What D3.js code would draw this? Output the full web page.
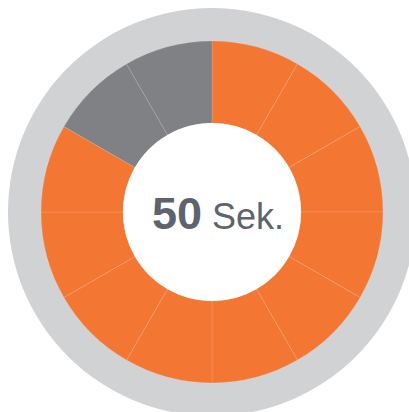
<!DOCTYPE html>
<html>
<head>
<meta charset="utf-8">
<script src="https://cdn.jsdelivr.net/npm/d3@7"></script>
<style>
  html, body { margin: 0; padding: 0; background: #ffffff; }
  svg { display: block; }
</style>
</head>
<body>
<div id="timer"></div>
<script>
// data: one minute split into 12 five-second slices
var slices = ["0-5", "5-10", "10-15", "15-20", "20-25", "25-30",
              "30-35", "35-40", "40-45", "45-50", "50-55", "55-60"];
var seconds = [5, 5, 5, 5, 5, 5, 5, 5, 5, 5, 5, 5];
var elapsed = [1, 1, 1, 1, 1, 1, 1, 1, 1, 1, 0, 0];
var labelValue = "50";
var labelUnit = "Sek.";

// setup
var w = 409;
var h = 412;
var cx = 212;
var cy = 212;

var svgContainer = d3.select("#timer")
                .append("svg")
                .attr("width", w)
                .attr("height", h)
                .attr("viewBox", "0 0 " + w + " " + h);

var g = svgContainer.append("g")
                .attr("transform", "translate(" + cx + "," + cy + ")");

var color = d3.scaleOrdinal([1, 0], ["#f37632", "#808184"]);

var pie = d3.pie().sort(null).value(function(d){ return d; });
var arc = d3.arc().innerRadius(89).outerRadius(171);

// outer grey ring
g.append("circle")
    .attr("r", 204)
    .attr("fill", "#d1d2d4");

// slices
g.selectAll("path")
    .data(pie(seconds))
    .enter()
    .append("path")
        .attr("d", arc)
        .attr("class", "slice")
        .attr("fill", function(d, i){ return color(elapsed[i]); })
        .attr("stroke", "#ffffff")
        .attr("stroke-opacity", 0.22)
        .attr("stroke-width", 0.6);

// white hole
g.append("circle")
    .attr("r", 89)
    .attr("fill", "#ffffff");

// label
var label = g.append("text")
    .attr("x", 6)
    .attr("y", 17)
    .attr("text-anchor", "middle")
    .attr("fill", "#5d6470")
    .style("font-family", "'Liberation Sans', Arial, Helvetica, sans-serif");
label.append("tspan")
    .attr("font-weight", "bold")
    .attr("font-size", 45)
    .text(labelValue);
label.append("tspan")
    .attr("dx", 10)
    .attr("font-size", 36)
    .text(labelUnit);
</script>
</body>
</html>
